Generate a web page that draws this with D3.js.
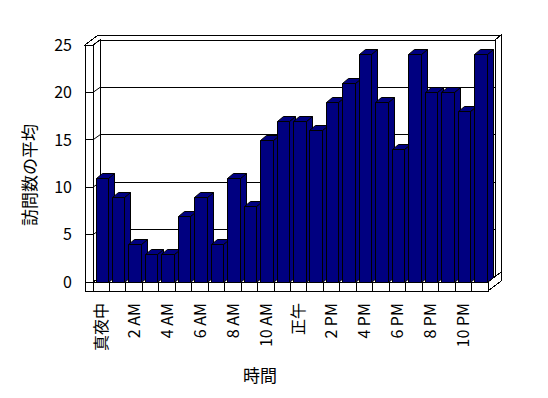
<!DOCTYPE html>
<html>
<head>
<meta charset="utf-8">
<script src="https://cdn.jsdelivr.net/npm/d3@7"></script>
<style>
  html, body { margin: 0; padding: 0; background: #fff; }
  svg { display: block; }
  text { font-family: "Noto Sans CJK JP", "Noto Sans", sans-serif; fill: #000; }
</style>
</head>
<body>
<svg id="chart" width="548" height="398"></svg>
<script>
// ---- data ----
const hours = d3.range(24);
const visits = [11, 9, 4, 3, 3, 7, 9, 4, 11, 8, 15, 17, 17, 16, 19, 21, 24, 19, 14, 24, 20, 20, 18, 24];
const hourLabels = ["真夜中", "2 AM", "4 AM", "6 AM", "8 AM", "10 AM", "正午", "2 PM", "4 PM", "6 PM", "8 PM", "10 PM"];
const yTicks = [0, 5, 10, 15, 20, 25];
const yTitle = "訪問数の平均";
const xTitle = "時間";

// ---- layout ----
const svg = d3.select("#chart");
const FX0 = 93, FX1 = 488, Y0 = 282, YT = 45;
const DX = 7, DY = -5;        // plot depth
const TX = 6, TY = -5;        // wall thickness (back)
const WALL = 8;               // left wall thickness (front face width)
const FLOOR = 9;              // floor thickness

const x = d3.scaleBand().domain(hours).range([FX0, FX1]).padding(0);
const y = d3.scaleLinear().domain([0, 25]).range([Y0, YT]);

const line = pts => "M" + pts.map(p => p.join(",")).join("L") + "Z";
const st = sel => sel.attr("fill", "#fff").attr("stroke", "#000").attr("stroke-width", 1).attr("shape-rendering", "crispEdges");

const g = svg.append("g");

// back wall inner face
st(g.append("path").attr("d", line([[FX0 + DX, YT + DY], [FX1 + DX, YT + DY], [FX1 + DX, Y0 + DY], [FX0 + DX, Y0 + DY]])));
// back wall right side face
st(g.append("path").attr("d", line([[FX1 + DX, YT + DY], [FX1 + DX + TX, YT + DY + TY], [FX1 + DX + TX, Y0 + DY + TY], [FX1 + DX, Y0 + DY]])));
// top faces (left wall + back wall)
st(g.append("path").attr("d", line([[FX0 - WALL, YT], [FX0, YT], [FX0 + DX, YT + DY], [FX1 + DX, YT + DY], [FX1 + DX + TX, YT + DY + TY], [FX0 - WALL + DX + TX, YT + DY + TY]])));
// left wall inner face
st(g.append("path").attr("d", line([[FX0, YT], [FX0 + DX, YT + DY], [FX0 + DX, Y0 + DY], [FX0, Y0]])));
// floor top face
st(g.append("path").attr("d", line([[FX0, Y0], [FX1, Y0], [FX1 + DX, Y0 + DY], [FX0 + DX, Y0 + DY]])));
// floor right face
st(g.append("path").attr("d", line([[FX1, Y0], [FX1 + DX + TX, Y0 + DY + TY], [FX1 + DX + TX, Y0 + DY + TY + FLOOR], [FX1, Y0 + FLOOR]])));
// left wall front face
st(g.append("rect").attr("x", FX0 - WALL).attr("y", YT).attr("width", WALL).attr("height", Y0 + FLOOR - YT));
// floor front face
st(g.append("rect").attr("x", FX0).attr("y", Y0).attr("width", FX1 - FX0).attr("height", FLOOR));

// gridlines
const grid = g.append("g").attr("stroke", "#000").attr("fill", "none").attr("shape-rendering", "crispEdges");
yTicks.filter(v => v > 0).forEach(v => {
  grid.append("line").attr("x1", FX0 - WALL).attr("x2", FX0).attr("y1", y(v)).attr("y2", y(v));
  grid.append("line").attr("x1", FX0).attr("x2", FX0 + DX).attr("y1", y(v)).attr("y2", y(v) + DY).attr("shape-rendering", "auto");
  grid.append("line").attr("x1", FX0 + DX).attr("x2", FX1 + DX).attr("y1", y(v) + DY).attr("y2", y(v) + DY);
});
grid.append("line").attr("x1", FX0 - WALL).attr("x2", FX0).attr("y1", y(0)).attr("y2", y(0));
// category dividers on floor front
hours.slice(1).forEach(h => {
  grid.append("line").attr("x1", x(h)).attr("x2", x(h)).attr("y1", Y0).attr("y2", Y0 + FLOOR);
});

// bars
const BW = x.bandwidth() * 0.76, BOFF = 2.5, BDX = 6, BDY = -5;
const bars = g.append("g").attr("stroke", "#000").attr("stroke-width", 1).attr("fill", "#000080").attr("stroke-linejoin", "miter");
hours.forEach(h => {
  const x0 = Math.round(x(h) + BOFF) + 0.5, x1 = Math.round(x(h) + BOFF + BW) + 0.5;
  const yt = Math.round(y(visits[h])) + 0.5, yb = Y0 + 0.5;
  const bg = bars.append("g");
  // side
  bg.append("path").attr("d", line([[x1, yt], [x1 + BDX, yt + BDY], [x1 + BDX, yb + BDY], [x1, yb]]));
  // top
  bg.append("path").attr("d", line([[x0, yt], [x0 + BDX, yt + BDY], [x1 + BDX, yt + BDY], [x1, yt]]));
  // front
  bg.append("path").attr("d", line([[x0, yt], [x1, yt], [x1, yb], [x0, yb]]));
});

// y tick labels
svg.append("g").selectAll("text").data(yTicks).join("text")
  .attr("x", 72).attr("y", d => y(d)).attr("dy", "0.36em")
  .attr("text-anchor", "end").attr("font-size", 16).text(d => d);

// x tick labels
svg.append("g").selectAll("text").data(hourLabels).join("text")
  .attr("transform", (d, i) => `translate(${x(hours[i * 2]) + x.bandwidth() / 2},303) rotate(-90)`)
  .attr("dy", "0.36em").attr("text-anchor", "end").attr("font-size", 16).text(d => d);

// axis titles
svg.append("text").attr("transform", "translate(30,175) rotate(-90)").attr("dy", "0.36em")
  .attr("text-anchor", "middle").attr("font-size", 17).text(yTitle);
svg.append("text").attr("x", 260).attr("y", 376).attr("dy", "0.36em")
  .attr("text-anchor", "middle").attr("font-size", 17).text(xTitle);
</script>
</body>
</html>
